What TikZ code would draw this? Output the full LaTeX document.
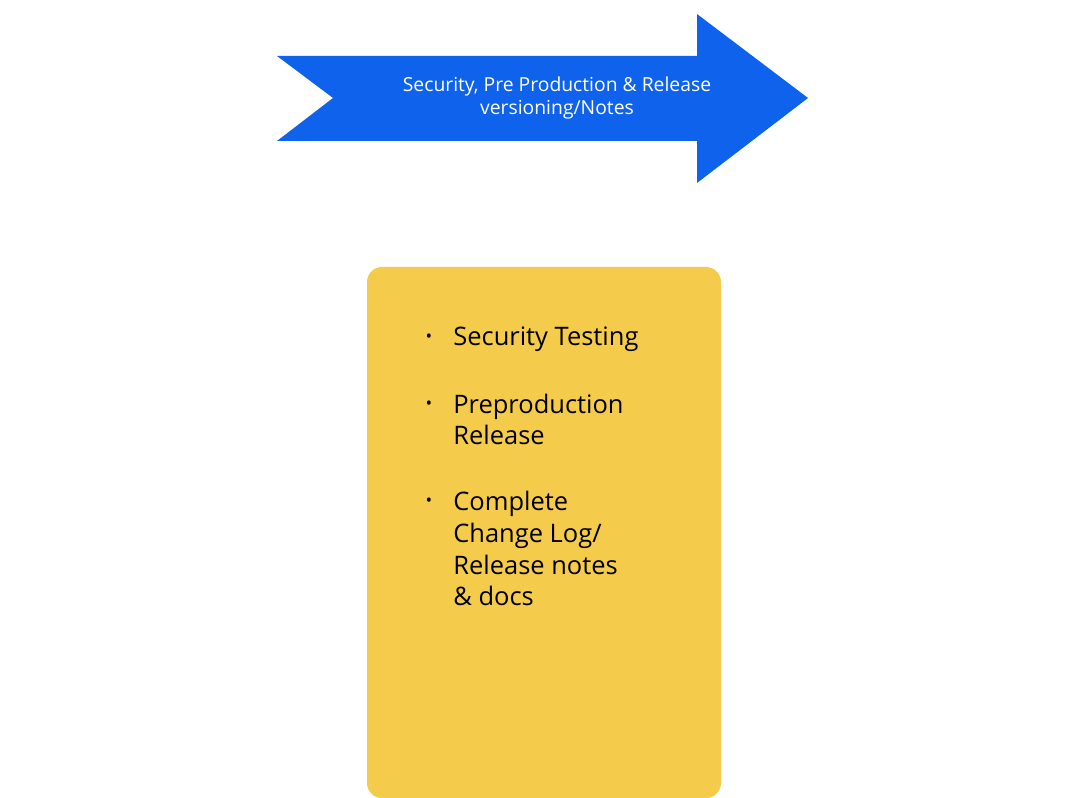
\documentclass[tikz,border=0pt]{standalone}
\usepackage{fontspec}
\setmainfont{Open Sans}
\definecolor{flowblue}{HTML}{0F62EC}
\definecolor{noteyellow}{HTML}{F5CB4C}
\tikzset{
  itemtext/.style={anchor=base west, inner sep=0pt, align=left, font=\fontsize{14.5}{18.1}\selectfont},
  itembullet/.style={anchor=base, inner sep=0pt, font=\fontsize{10}{12}\selectfont}
}
\begin{document}
\begin{tikzpicture}[x=0.02cm,y=0.02cm]
        \useasboundingbox (0,0) rectangle (1086,798);

        \fill[flowblue] (277,742) -- (333,700) -- (277,657) -- (697,657) -- (697,615)
            -- (808,700) -- (697,784) -- (697,742) -- cycle;
        \node[text=white, align=center, font=\fontsize{11}{13.6}\selectfont] (stage) at (557,700)
            {Security, Pre Production \& Release\\versioning/Notes};

        \fill[noteyellow, rounded corners=0.3cm] (367,0) rectangle (721,531);

        % base anchor sits on the last line
        \node[itembullet] (b1) at (429,455) {\textbullet};
        \node[itemtext] (t1) at (453,452) {Security Testing};

        \node[itembullet] (b2) at (429,388) {\textbullet};
        \node[itemtext] (t2) at (453,353) {Preproduction\\Release};

        \node[itembullet] (b3) at (429,291) {\textbullet};
        \node[itemtext] (t3) at (453,192) {Complete\\Change Log/\\Release notes\\\& docs};
    \end{tikzpicture}
\end{document}
